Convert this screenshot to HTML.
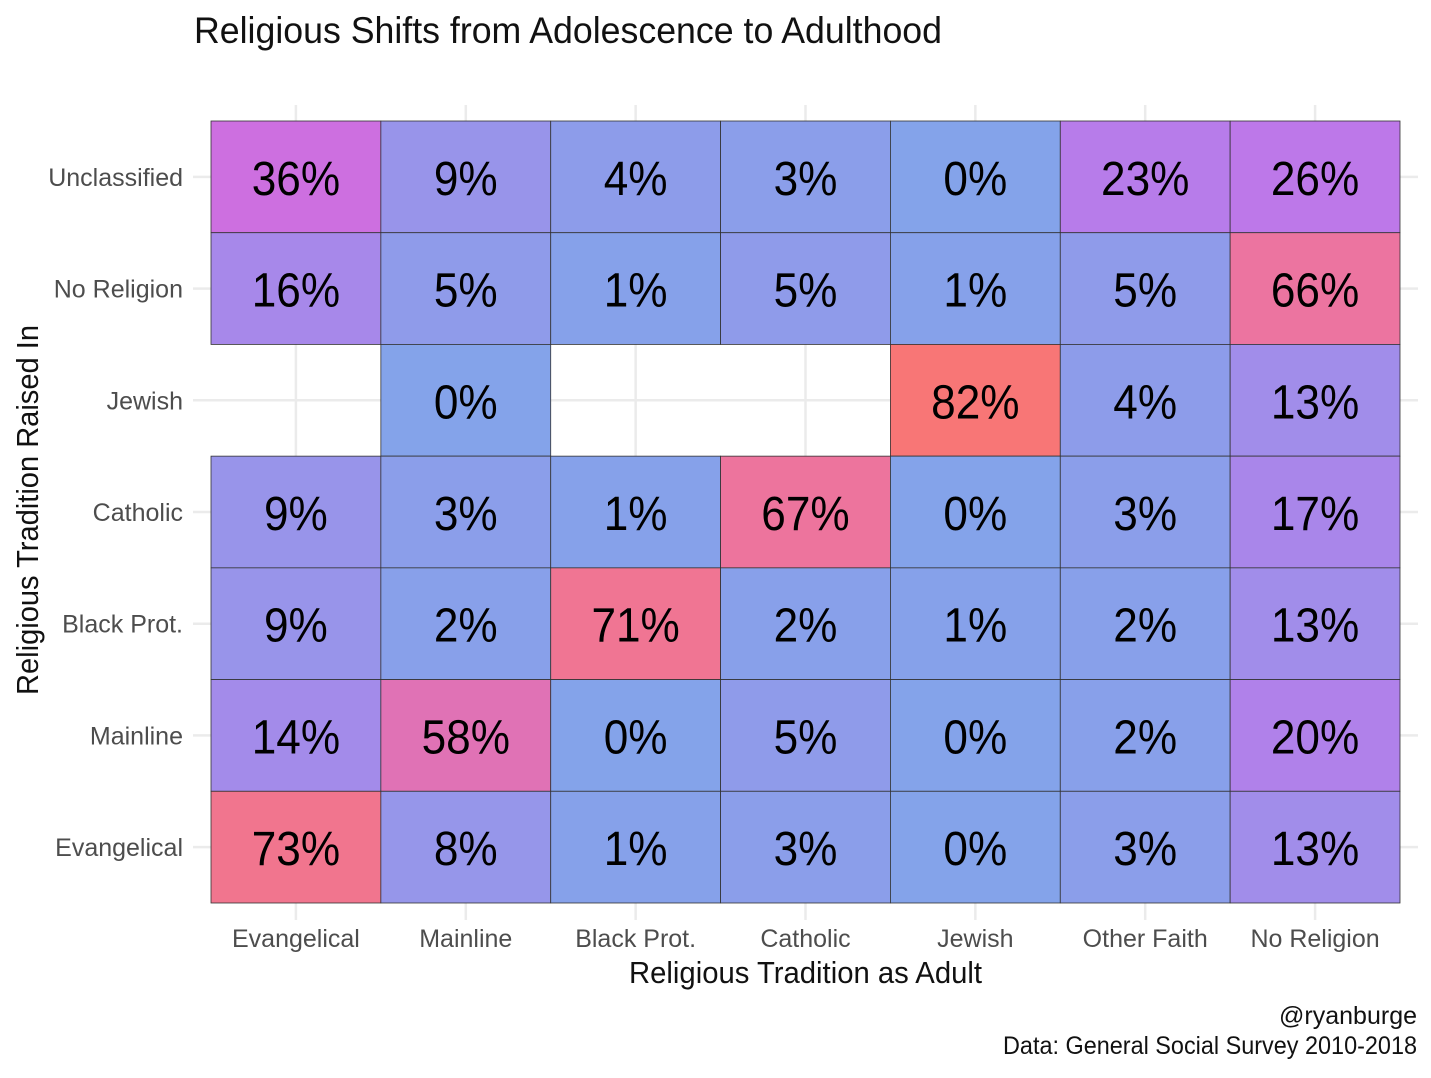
<!DOCTYPE html>
<html><head><meta charset="utf-8">
<style>
html,body{margin:0;padding:0;background:#fff;}
svg text{font-family:"Liberation Sans Narrow","Liberation Sans",sans-serif;}
</style></head>
<body>
<svg id="chart" width="1431" height="1073" xmlns="http://www.w3.org/2000/svg">
<text x="194" y="43" font-size="37" fill="#111" textLength="748" lengthAdjust="spacingAndGlyphs">Religious Shifts from Adolescence to Adulthood</text>
<g id="grid"></g>
<g id="cells"></g>
<g id="labels"></g>
<text x="629" y="983" font-size="31" fill="#111" textLength="353" lengthAdjust="spacingAndGlyphs">Religious Tradition as Adult</text>
<text transform="translate(38,695) rotate(-90)" font-size="31" fill="#111" textLength="370" lengthAdjust="spacingAndGlyphs">Religious Tradition Raised In</text>
<text x="1417" y="1024" font-size="25" fill="#111" text-anchor="end">@ryanburge</text>
<text x="1003" y="1054" font-size="25" fill="#111" textLength="414" lengthAdjust="spacingAndGlyphs">Data: General Social Survey 2010-2018</text>
</svg>
<script>
const adultCats = ["Evangelical","Mainline","Black Prot.","Catholic","Jewish","Other Faith","No Religion"];
const raisedCats = ["Unclassified","No Religion","Jewish","Catholic","Black Prot.","Mainline","Evangelical"];
const rowUnclassified = [36,9,4,3,0,23,26];
const rowNoReligion = [16,5,1,5,1,5,66];
const rowJewish = [null,0,null,null,82,4,13];
const rowCatholic = [9,3,1,67,0,3,17];
const rowBlackProt = [9,2,71,2,1,2,13];
const rowMainline = [14,58,0,5,0,2,20];
const rowEvangelical = [73,8,1,3,0,3,13];
const values = [rowUnclassified,rowNoReligion,rowJewish,rowCatholic,rowBlackProt,rowMainline,rowEvangelical];

const NS="http://www.w3.org/2000/svg";
const x0=211,x1=1400,y0=121,y1=903;
const cw=(x1-x0)/adultCats.length, ch=(y1-y0)/raisedCats.length;
const xPos=i=>x0+i*cw, yPos=j=>y0+j*ch;
const stops=[[0,[132,163,234]],[25,[187,121,234]],[36,[205,111,224]],[58,[224,114,181]],[66,[236,116,160]],[82,[248,118,118]]];
function color(v){
  for(let k=1;k<stops.length;k++){
    if(v<=stops[k][0]||k===stops.length-1){
      const a=stops[k-1],b=stops[k];const t=Math.max(0,Math.min(1,(v-a[0])/(b[0]-a[0])));
      const c=a[1].map((q,i)=>Math.round(q+(b[1][i]-q)*t));return `rgb(${c})`;
    }
  }
}
function mk(tag,attrs,parent){const e=document.createElementNS(NS,tag);for(const k in attrs)e.setAttribute(k,attrs[k]);parent.appendChild(e);return e;}
const grid=document.getElementById('grid'),cells=document.getElementById('cells'),labels=document.getElementById('labels');
adultCats.forEach((c,i)=>{
  const cx=xPos(i)+cw/2;
  const l=mk('line',{x1:cx,x2:cx,y1:105,y2:920,stroke:'#ebebeb','stroke-width':2.5},grid);
  
  
  const t=mk('text',{x:cx,y:947,'font-size':25,fill:'#4d4d4d','text-anchor':'middle'},labels);
  t.textContent=c;
  
  
});
raisedCats.forEach((r,j)=>{
  const cy=yPos(j)+ch/2;
  const l=mk('line',{x1:193,x2:1418,y1:cy,y2:cy,stroke:'#ebebeb','stroke-width':2.5},grid);
  
  
  const t=mk('text',{x:183,y:cy+9,'font-size':25,fill:'#4d4d4d','text-anchor':'end'},labels);
  t.textContent=r;
  
  
  values[j].forEach((v,i)=>{
    if(v===null)return;
    const rect=mk('rect',{x:xPos(i),y:yPos(j),width:cw,height:ch,fill:color(v),stroke:'#333','stroke-width':0.8},cells);
    
    
    const t=mk('text',{x:xPos(i)+cw/2,y:yPos(j)+ch/2+18,'font-size':48,fill:'#000','text-anchor':'middle',transform:`translate(${xPos(i)+cw/2},0) scale(0.92,1) translate(${-(xPos(i)+cw/2)},0)`},cells);
    t.textContent=v+'%';
    
    
  });
});
</script>
</body></html>
